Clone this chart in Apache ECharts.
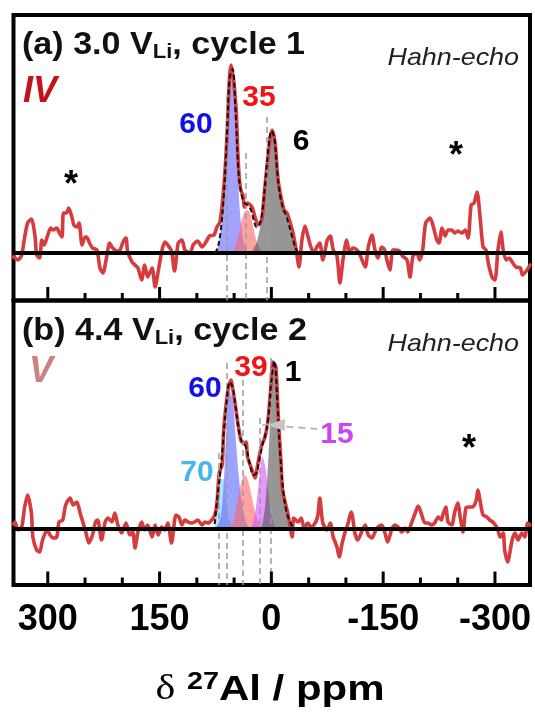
<!DOCTYPE html>
<html><head><meta charset="utf-8">
<script src="https://cdn.jsdelivr.net/npm/echarts@6/dist/echarts.min.js"></script>
<style>html,body{margin:0;padding:0;background:#fff}#c{width:535px;height:718px}</style>
</head><body><div id="c"></div>
<script>
const FONT = '"Liberation Sans", Arial, Helvetica, sans-serif';
const SERIF = '"Liberation Serif", "DejaVu Serif", serif';

// ---- axis ticks (ppm) ----
const majorTicks = [300, 150, 0, -150, -300];
const minorTicks = [250, 200, 100, 50, -50, -100, -200, -250];

// ---- experimental spectra [ppm, intensity] ----
const traceA = [[346,-4],[344,-5],[340,-7],[335,-2],[331,16],[327,30],[322,34],[317,16],[315,-2],[311,-5],[308,13],[305,8],[300,18],[296,25],[293,23],[288,25],[285,21],[281,16],[279,40],[275,40],[272,45],[268,37],[265,28],[261,26],[258,30],[254,8],[250,16],[248,16],[244,10],[240,5],[234,3],[230,-15],[226,-20],[221,-4],[217,10],[213,5],[207,2],[203,3],[199,11],[195,15],[193,2],[187,-9],[183,-12],[179,-15],[174,-27],[170,-12],[166,-24],[160,-15],[156,-34],[152,-19],[147,2],[143,11],[139,8],[134,2],[130,-18],[125,10],[120,13],[116,3],[109,0],[105,8],[99,12],[93,6],[87,12],[83,17],[77,18],[73,26],[69,31],[65,56],[61,96],[58,146],[56,178],[54,188],[52,180],[50,168],[47,140],[45,100],[43,75],[41,63],[38,57],[36,46],[32,50],[26,46],[22,36],[18,28],[13,33],[10,56],[6,86],[2,113],[-1,123],[-5,110],[-9,73],[-13,56],[-17,43],[-21,40],[-25,31],[-29,20],[-34,0],[-37,-14],[-41,13],[-45,27],[-49,17],[-53,6],[-57,0],[-61,6],[-65,10],[-69,-7],[-75,13],[-79,17],[-83,3],[-88,-3],[-92,-30],[-96,-7],[-101,13],[-105,0],[-109,5],[-115,3],[-119,-2],[-126,-14],[-130,6],[-135,18],[-139,3],[-143,-5],[-148,6],[-152,3],[-155,-7],[-159,-17],[-163,3],[-168,3],[-172,2],[-176,-3],[-182,-7],[-186,-24],[-190,-3],[-195,0],[-199,-7],[-203,3],[-207,30],[-213,35],[-217,27],[-222,13],[-225,10],[-229,25],[-233,17],[-237,23],[-242,23],[-246,20],[-250,22],[-256,20],[-260,23],[-264,15],[-268,48],[-272,50],[-276,61],[-280,36],[-284,6],[-288,3],[-291,-10],[-296,-24],[-300,-27],[-304,3],[-308,21],[-311,3],[-315,-7],[-319,-5],[-324,-10],[-328,-14],[-334,-15],[-337,-22],[-343,-17],[-347,-12]];

const traceB = [[346,5],[344,7],[340,-1],[335,2],[331,22],[327,34],[322,16],[320,-8],[315,-21],[311,-23],[307,-11],[301,-1],[297,-6],[293,-9],[288,-8],[285,7],[280,9],[276,24],[270,31],[266,24],[261,27],[257,17],[253,7],[249,-3],[245,-14],[240,-6],[236,7],[233,9],[228,-11],[223,7],[219,11],[214,7],[210,16],[206,4],[201,-4],[195,6],[190,-6],[186,-3],[183,-19],[179,-3],[174,7],[170,-1],[166,4],[160,-8],[156,4],[152,-6],[147,2],[143,-1],[139,6],[134,-14],[128,14],[124,12],[120,4],[116,9],[112,7],[107,6],[103,7],[99,9],[93,4],[89,7],[85,6],[80,9],[76,14],[73,26],[70,56],[66,64],[64,99],[60,129],[57,144],[54,149],[52,141],[48,122],[45,106],[41,89],[38,86],[34,87],[32,72],[26,59],[22,51],[18,66],[13,84],[9,91],[5,106],[1,139],[-2,167],[-6,162],[-9,116],[-13,66],[-15,39],[-21,19],[-23,12],[-28,-8],[-30,11],[-36,7],[-40,11],[-44,1],[-49,6],[-53,2],[-57,4],[-62,12],[-65,31],[-69,6],[-75,-1],[-79,6],[-83,-8],[-88,-18],[-91,-28],[-95,-14],[-99,-3],[-103,6],[-107,17],[-109,12],[-112,-4],[-116,-11],[-122,-1],[-126,4],[-130,-6],[-135,-9],[-139,-3],[-143,2],[-148,4],[-152,-3],[-156,-13],[-162,1],[-166,4],[-170,2],[-175,-3],[-179,1],[-183,-3],[-188,6],[-193,16],[-197,23],[-201,16],[-206,6],[-210,6],[-215,4],[-219,6],[-224,12],[-228,9],[-230,14],[-234,22],[-237,7],[-242,4],[-246,17],[-250,26],[-254,9],[-257,-3],[-261,21],[-265,22],[-270,22],[-275,29],[-277,39],[-281,24],[-284,14],[-289,12],[-293,9],[-297,7],[-303,1],[-307,-8],[-311,-4],[-313,-21],[-317,-33],[-323,-11],[-327,-4],[-331,-11],[-336,-4],[-340,-8],[-344,6],[-347,4]];

// ---- fitted components, on a common ppm grid ----
const fitPpm = [76,72,68,64,60,56,52,48,44,40,36,32,28,24,20,16,12,8,4,0,-4,-8,-12,-16,-20,-24,-28,-32,-36];
const fitA   = [0,5,22,55,112,175,184,140,80,58,50,48,44,34,26,28,42,72,105,122,115,80,56,44,37,27,16,6,0];
const compA60 = [0,5,22,55,112,175,182,130,62,24,8,2,0,0,0,0,0,0,0,0,0,0,0,0,0,0,0,0,0];
const compA35 = [0,0,0,0,0,0,0,8,18,32,41,43,38,25,12,5,1,0,0,0,0,0,0,0,0,0,0,0,0];
const compA6  = [0,0,0,0,0,0,0,0,0,0,0,0,0,4,10,22,40,72,105,122,115,80,56,44,37,27,16,6,0];

const fitB    = [5,35,60,95,128,147,142,122,100,88,85,76,62,54,56,70,84,94,112,148,168,128,72,38,18,9,3,0,0];
const compB70 = [3,22,50,50,22,8,2,0,0,0,0,0,0,0,0,0,0,0,0,0,0,0,0,0,0,0,0,0,0];
const compB60 = [0,4,12,45,104,137,130,92,55,28,12,4,1,0,0,0,0,0,0,0,0,0,0,0,0,0,0,0,0];
const compB39 = [0,0,0,0,0,0,6,18,34,48,54,50,38,24,12,5,1,0,0,0,0,0,0,0,0,0,0,0,0];
const compB15 = [0,0,0,0,0,0,0,0,0,0,0,0,0,8,26,52,72,62,36,14,4,0,0,0,0,0,0,0,0];
const compB1  = [0,0,0,0,0,0,0,0,0,0,0,0,0,0,0,0,6,26,72,132,166,128,72,38,18,9,3,0,0];

// ---- peak marker lines (ppm, top intensity) ----
const peaksA = [60, 35, 6];
const peakTopA = [158, 100, 136];
const peaksB = [70, 60, 39, 15, 1];
const peakTopB = [76, 166, 149, 111, 171];
// arrow from the "15" label to its marker line: [ppm, intensity] start, tip, tail
const arrow15 = [[12, 104], [6, 104], [-62, 100]];

const yRangeA = [-47.5, 238];
const yRangeB = [-56, 228.5];
const xRange = [-347, 346];

const zip = (xs, ys) => xs.map((x, i) => [x, ys[i]]);

const chart = echarts.init(document.getElementById('c'), null, {renderer: 'canvas'});

function xAx(grid, labels) {
  return {
    type: 'value', gridIndex: grid, min: xRange[0], max: xRange[1], inverse: true, position: 'bottom',
    axisLine: {show: false, onZero: false}, splitLine: {show: false}, axisTick: {show: false},
    axisLabel: labels ? {show: true, customValues: majorTicks, color: '#000', fontSize: 36,
               fontWeight: 'bold', fontFamily: FONT, margin: 17} : {show: false}
  };
}
function yAx(grid, range) {
  return {type: 'value', gridIndex: grid, min: range[0], max: range[1], show: true,
          axisLine: {show: false}, axisTick: {show: false}, axisLabel: {show: false},
          splitLine: {show: false}};
}
function area(xi, yi, data, color) {
  return {type: 'line', xAxisIndex: xi, yAxisIndex: yi, data: data, smooth: 0.35,
          symbol: 'none', silent: true, lineStyle: {width: 0},
          areaStyle: {color: color, opacity: 1}};
}
const dashGray = {color: '#9c9c9c', type: [6, 4], width: 1.5};
function peakLines(peaks, tops, ymin) {
  return peaks.map((p, i) => [{coord: [p, tops[i]]}, {coord: [p, ymin]}]);
}
function trace(xi, yi, data, lines) {
  return {type: 'line', xAxisIndex: xi, yAxisIndex: yi, data: data, smooth: 0.25,
          symbol: 'none', silent: true,
          lineStyle: {color: '#d63b3d', width: 3.6, join: 'round', cap: 'round'},
          markLine: {silent: true, symbol: ['none', 'none'], label: {show: false},
                     lineStyle: dashGray, data: lines}};
}
function fit(xi, yi, data) {
  return {type: 'line', xAxisIndex: xi, yAxisIndex: yi, data: data, smooth: 0.35,
          symbol: 'none', silent: true, z: 5,
          lineStyle: {color: '#111', width: 2, type: [5, 3]},
          markLine: {silent: true, symbol: ['none', 'none'], label: {show: false},
                     lineStyle: {color: '#000', width: 4, type: 'solid'},
                     data: [{yAxis: 0}]}};
}

function txt(x, y, text, o) {
  o = o || {};
  const st = {text: text, fill: o.color || '#000', fontFamily: o.family || FONT,
              fontSize: o.size || 30, fontWeight: o.weight || 'bold',
              fontStyle: o.style || 'normal',
              align: o.align || 'center', verticalAlign: 'middle',
              textAlign: o.align || 'center', textVerticalAlign: 'middle'};
  if (o.rich) st.rich = o.rich;
  return {type: 'text', x: x, y: y, scaleX: o.sx || 1, z: 100, silent: true, style: st};
}
const titleRich = {
  m: {fontSize: 31, fontWeight: 'bold', fontFamily: FONT, lineHeight: 34, fill: '#111'},
  s: {fontSize: 20, fontWeight: 'bold', fontFamily: FONT, lineHeight: 8, verticalAlign: 'bottom', fill: '#111'}
};
const axRich = {
  d: {fontSize: 35, fontFamily: SERIF, fontWeight: 'normal', lineHeight: 40, fill: '#000'},
  p: {fontSize: 24, fontFamily: FONT, fontWeight: 'bold', lineHeight: 24, verticalAlign: 'top', fill: '#000'},
  m: {fontSize: 35, fontFamily: FONT, fontWeight: 'bold', lineHeight: 40, fill: '#000'}
};

const linesA = peakLines(peaksA, peakTopA, yRangeA[0]);
const linesB = peakLines(peaksB, peakTopB, yRangeB[0]);
linesB.push([{coord: arrow15[0], lineStyle: {color: '#b8b8b8', type: [7, 5], width: 2}},
             {coord: arrow15[2]}]);

const texts = [
  txt(22, 45, '{m|(a) 3.0 V}{s|Li}{m|, cycle 1}', {align: 'left', rich: titleRich, sx: 1.1}),
  txt(22, 331, '{m|(b) 4.4 V}{s|Li}{m|, cycle 2}', {align: 'left', rich: titleRich, sx: 1.1}),
  txt(519, 58, 'Hahn-echo', {align: 'right', size: 24, weight: 'normal', style: 'italic', color: '#222', sx: 1.12}),
  txt(519, 344, 'Hahn-echo', {align: 'right', size: 24, weight: 'normal', style: 'italic', color: '#222', sx: 1.12}),
  txt(40, 92, 'IV', {size: 36, weight: 'bold', style: 'italic', color: '#c4121c'}),
  txt(41, 372, 'V', {size: 36, weight: 'bold', style: 'italic', color: '#cd8282'}),
  txt(196, 125, '60', {size: 30, color: '#1010e8'}),
  txt(259, 98, '35', {size: 30, color: '#f01414'}),
  txt(301, 142, '6', {size: 30, color: '#000'}),
  txt(205, 389, '60', {size: 30, color: '#1010e8'}),
  txt(251, 368, '39', {size: 30, color: '#f01414'}),
  txt(293, 373, '1', {size: 30, color: '#000'}),
  txt(337, 435, '15', {size: 30, color: '#cc44ee'}),
  txt(197, 473, '70', {size: 30, color: '#4ab4f0'}),
  txt(71, 186, '*', {size: 36, color: '#000'}),
  txt(456, 157, '*', {size: 36, color: '#000'}),
  txt(469, 450, '*', {size: 36, color: '#000'}),
  txt(270, 690, '{d|δ}{m| }{p|27}{m|Al / ppm}', {rich: axRich, sx: 1.2})
];

chart.setOption({
  animation: false,
  backgroundColor: '#fff',
  grid: [
    {left: 13.5, right: 5, top: 15, height: 285.5, show: true, borderColor: '#000', borderWidth: 4, backgroundColor: 'transparent'},
    {left: 13.5, right: 5, top: 300.5, height: 284.5, show: true, borderColor: '#000', borderWidth: 4, backgroundColor: 'transparent'}
  ],
  xAxis: [xAx(0, false), xAx(1, true)],
  yAxis: [yAx(0, yRangeA), yAx(1, yRangeB)],
  series: [
    area(0, 0, zip(fitPpm, compA60), 'rgba(105,105,255,0.62)'),
    area(0, 0, zip(fitPpm, compA35), 'rgba(255,100,100,0.6)'),
    area(0, 0, zip(fitPpm, compA6), 'rgba(85,85,85,0.62)'),
    trace(0, 0, traceA, linesA),
    fit(0, 0, zip(fitPpm, fitA)),

    area(1, 1, zip(fitPpm, compB70), 'rgba(150,215,255,0.75)'),
    area(1, 1, zip(fitPpm, compB60), 'rgba(90,100,255,0.6)'),
    area(1, 1, zip(fitPpm, compB39), 'rgba(255,100,100,0.6)'),
    area(1, 1, zip(fitPpm, compB15), 'rgba(215,80,255,0.6)'),
    area(1, 1, zip(fitPpm, compB1), 'rgba(85,85,85,0.62)'),
    trace(1, 1, traceB, linesB),
    fit(1, 1, zip(fitPpm, fitB))
  ],
  graphic: texts
});

// tick marks and the arrow head, placed through the chart's own axis scales
const extra = [];
function addTicks(gridIndex, ymin) {
  const mk = (t, len) => {
    const p = chart.convertToPixel({gridIndex: gridIndex}, [t, ymin]);
    if (!p) return;
    extra.push({type: 'rect', z: 101, silent: true,
                shape: {x: p[0] - 1.5, y: p[1] - len, width: 3, height: len},
                style: {fill: '#000'}});
  };
  majorTicks.forEach(t => mk(t, 13.5));
  minorTicks.forEach(t => mk(t, 7.5));
}
addTicks(0, yRangeA[0]);
addTicks(1, yRangeB[0]);
const tip = chart.convertToPixel({gridIndex: 1}, arrow15[1]);
if (tip) {
  extra.push({type: 'polygon', z: 101, silent: true,
              shape: {points: [[tip[0], tip[1]], [tip[0] + 18, tip[1] - 6], [tip[0] + 18, tip[1] + 6]]},
              style: {fill: '#c6c6c6'}});
}
chart.setOption({graphic: texts.concat(extra)});
</script></body></html>
